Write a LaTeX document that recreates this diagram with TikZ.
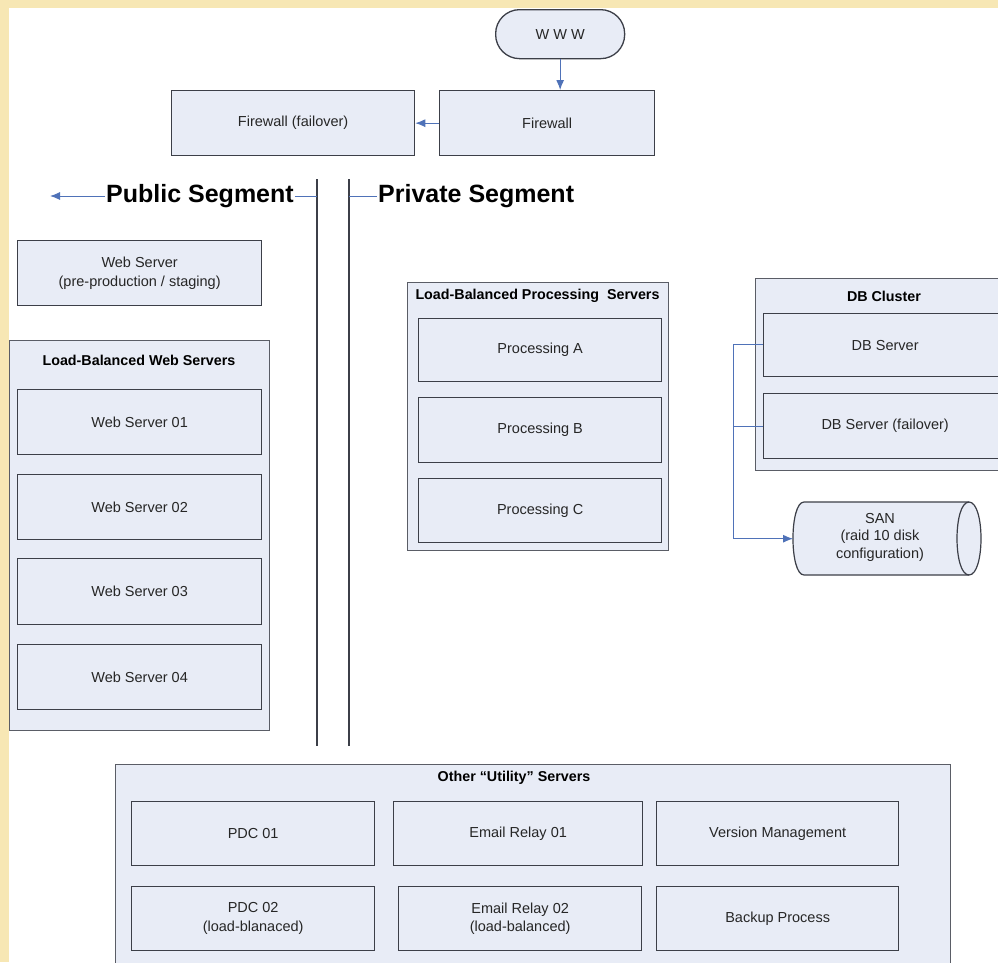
\documentclass[tikz,border=0pt]{standalone}
\usepackage{fontspec}
\setmainfont{Liberation Sans}
\usetikzlibrary{arrows.meta}
\definecolor{band}{HTML}{F7E7B4}
\definecolor{boxfill}{HTML}{E8ECF6}
\definecolor{boxline}{HTML}{3C3F48}
\definecolor{grpline}{HTML}{5A5D66}
\definecolor{arrowblue}{HTML}{4F72B8}
\definecolor{txt}{HTML}{262626}
\tikzset{
  srv/.style={draw=boxline, fill=boxfill, line width=1.3pt, rectangle, inner sep=0pt,
    text=txt, font=\fontsize{14.5}{18.5}\selectfont, align=center, anchor=north west},
  grp/.style={draw=grpline, fill=boxfill, line width=1.2pt, rectangle, inner sep=0pt, anchor=north west},
  grptitle/.style={text=black, font=\bfseries\fontsize{14.3}{17}\selectfont},
  seg/.style={text=black, font=\bfseries\fontsize{25}{29}\selectfont, inner sep=1pt},
  conn/.style={draw=arrowblue, line width=1pt},
  arr/.style={conn, -{Latex[length=10pt,width=8pt]}},
  divider/.style={draw=boxline, line width=1.3pt}
}
\begin{document}
\begin{tikzpicture}[x=1pt,y=-1pt]
\useasboundingbox (0,0) rectangle (998,962);
\fill[white] (0,0) rectangle (998,962);
\fill[band] (0,0) rectangle (998,8);
\fill[band] (0,0) rectangle (9,962);

% top
\node[srv, rounded corners=24pt, minimum width=129pt, minimum height=49pt] (www) at (495,9) {W W W};
\node[srv, minimum width=215pt, minimum height=65pt] (fw) at (439,90) {Firewall};
\node[srv, minimum width=243pt, minimum height=65pt] (fwf) at (171,90) {Firewall (failover)};
\draw[arr] (www.south) -- (www.south |- fw.north);
\draw[arr] (fw.west) -- (fwf.east);

% segments
\node[seg, anchor=west] (pub) at (105,196) {Public Segment};
\node[seg, anchor=west] (priv) at (377,196) {Private Segment};
\coordinate (pubend) at (50,196);
\coordinate (d1top) at (317,179);
\coordinate (d1bot) at (317,746);
\coordinate (d2top) at (349,179);
\coordinate (d2bot) at (349,746);
\draw[divider] (d1top) -- (d1bot);
\draw[divider] (d2top) -- (d2bot);
\draw[arr] (pub.west) -- (pubend);
\draw[conn] (pub.east) -- (pub.east -| d1top);
\draw[conn] (priv.west -| d2top) -- (priv.west);

% web servers
\node[srv, minimum width=244pt, minimum height=65pt] (wsstage) at (17,240) {Web Server\\(pre-production / staging)};
\node[grp, minimum width=260pt, minimum height=390pt] (gweb) at (9,340) {};
\node[grptitle] (gwebt) at (139,360) {Load-Balanced Web Servers};
\node[srv, minimum width=244pt, minimum height=65pt] (ws1) at (17,389) {Web Server 01};
\node[srv, minimum width=244pt, minimum height=65pt] (ws2) at (17,474) {Web Server 02};
\node[srv, minimum width=244pt, minimum height=66pt] (ws3) at (17,558) {Web Server 03};
\node[srv, minimum width=244pt, minimum height=65pt] (ws4) at (17,644) {Web Server 04};

% processing
\node[grp, minimum width=261pt, minimum height=268pt] (gproc) at (407,282) {};
\node[grptitle] (gproct) at (537.5,296) {Load-Balanced Processing\ \ Servers};
\node[srv, minimum width=243pt, minimum height=63pt] (pa) at (418,318) {Processing A};
\node[srv, minimum width=243pt, minimum height=65pt] (pb) at (418,397) {Processing B};
\node[srv, minimum width=243pt, minimum height=64pt] (pc) at (418,478) {Processing C};

% DB cluster
\node[grp, minimum width=250pt, minimum height=192pt] (gdb) at (755,278) {};
\node[grptitle] (gdbt) at (884,296) {DB Cluster};
\node[srv, minimum width=243pt, minimum height=63pt] (db1) at (763,313) {DB Server};
\node[srv, minimum width=243pt, minimum height=65pt] (db2) at (763,393) {DB Server (failover)};

% SAN cylinder
\node[inner sep=0pt, minimum width=188pt, minimum height=73pt, anchor=north west] (san) at (793,502) {};
\filldraw[draw=boxline, fill=boxfill, line width=1.2pt]
  (804,502) -- (969,502) .. controls (985,502) and (985,575) .. (969,575)
  -- (804,575) .. controls (789.3,575) and (789.3,502) .. (804,502) -- cycle;
\draw[draw=boxline, line width=1.2pt] (969,502) .. controls (953,502) and (953,575) .. (969,575);
\node[text=txt, font=\fontsize{14.5}{17.5}\selectfont, align=center] (sant) at (880,537) {SAN\\(raid 10 disk\\configuration)};

\coordinate (bus) at (733,344);
\draw[conn] (bus) -- (bus -| db1.west);
\draw[conn] (bus |- db2.west) -- (db2.west);
\draw[conn] (bus) -- (bus |- san.west);
\draw[arr] (bus |- san.west) -- (san.west);

% utility servers
\node[grp, minimum width=835pt, minimum height=210pt] (gutil) at (115,764) {};
\node[grptitle] (gutilt) at (514,778) {Other “Utility” Servers};
\node[srv, minimum width=243pt, minimum height=64pt] (pdc1) at (131,801) {PDC 01};
\node[srv, minimum width=249pt, minimum height=64pt] (er1) at (393,801) {Email Relay 01};
\node[srv, minimum width=242pt, minimum height=64pt] (vm) at (656,801) {Version Management};
\node[srv, minimum width=243pt, minimum height=64pt] (pdc2) at (131,886) {PDC 02\\(load-blanaced)};
\node[srv, minimum width=243pt, minimum height=64pt] (er2) at (398,886) {Email Relay 02\\(load-balanced)};
\node[srv, minimum width=242pt, minimum height=64pt] (bp) at (656,886) {Backup Process};
\end{tikzpicture}
\end{document}
